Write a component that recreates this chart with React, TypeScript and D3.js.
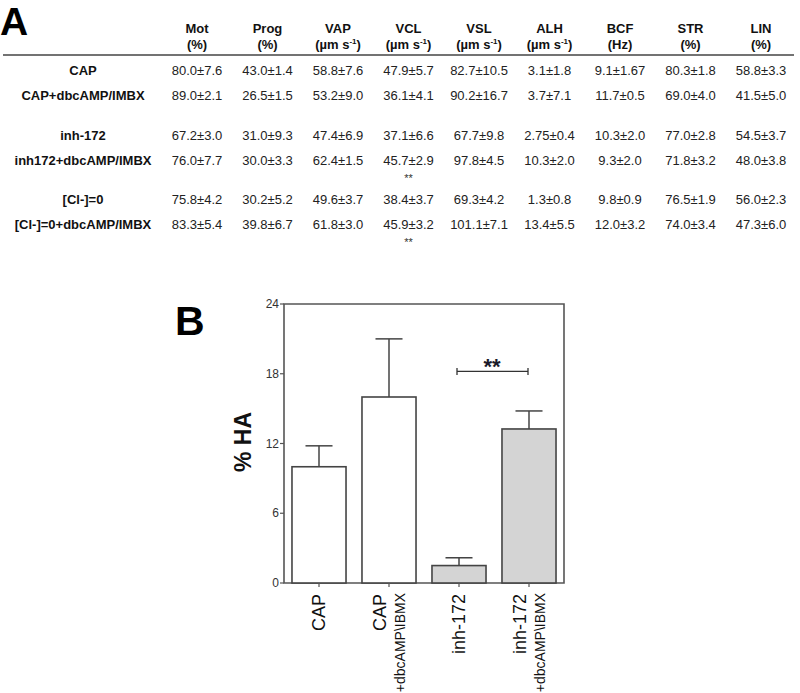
import React from "react";
import * as d3 from "d3";

const columns = ["Mot", "Prog", "VAP", "VCL", "VSL", "ALH", "BCF", "STR", "LIN"];
const units = ["(%)", "(%)", "µm", "µm", "µm", "µm", "(Hz)", "(%)", "(%)"];
const rowLabels = ["CAP", "CAP+dbcAMP/IMBX", "inh-172", "inh172+dbcAMP/IMBX", "[Cl-]=0", "[Cl-]=0+dbcAMP/IMBX"];
const rowCAP = ["80.0±7.6", "43.0±1.4", "58.8±7.6", "47.9±5.7", "82.7±10.5", "3.1±1.8", "9.1±1.67", "80.3±1.8", "58.8±3.3"];
const rowCAPdbc = ["89.0±2.1", "26.5±1.5", "53.2±9.0", "36.1±4.1", "90.2±16.7", "3.7±7.1", "11.7±0.5", "69.0±4.0", "41.5±5.0"];
const rowInh = ["67.2±3.0", "31.0±9.3", "47.4±6.9", "37.1±6.6", "67.7±9.8", "2.75±0.4", "10.3±2.0", "77.0±2.8", "54.5±3.7"];
const rowInhdbc = ["76.0±7.7", "30.0±3.3", "62.4±1.5", "45.7±2.9", "97.8±4.5", "10.3±2.0", "9.3±2.0", "71.8±3.2", "48.0±3.8"];
const rowCl = ["75.8±4.2", "30.2±5.2", "49.6±3.7", "38.4±3.7", "69.3±4.2", "1.3±0.8", "9.8±0.9", "76.5±1.9", "56.0±2.3"];
const rowCldbc = ["83.3±5.4", "39.8±6.7", "61.8±3.0", "45.9±3.2", "101.1±7.1", "13.4±5.5", "12.0±3.2", "74.0±3.4", "47.3±6.0"];
const tableRows = [rowCAP, rowCAPdbc, rowInh, rowInhdbc, rowCl, rowCldbc];
const sigMarks = [
  { row: 3, col: "VCL", text: "**" },
  { row: 5, col: "VCL", text: "**" },
];

const barGroups = ["CAP", "CAP+", "inh-172", "inh-172+"];
const barMain = ["CAP", "CAP", "inh-172", "inh-172"];
const barSub = ["", "+dbcAMP\\IBMX", "", "+dbcAMP\\IBMX"];
const barMeans = [10.0, 16.0, 1.5, 13.25];
const barErrors = [1.8, 5.0, 0.67, 1.55];
const barFills = ["#ffffff", "#ffffff", "#d4d4d4", "#d4d4d4"];
const yTicks = [0, 6, 12, 18, 24];
const sigPair = ["inh-172", "inh-172+"];
const sigLevel = 18.2;

const FONT = "Arial, 'Liberation Sans', Helvetica, sans-serif";

export default function App() {
  const colX = d3.scalePoint<string>().domain(columns).range([197, 761]);
  const rowY = (i: number) => 75 + Math.floor(i / 2) * 64.5 + (i % 2) * 25;

  const x = d3.scaleBand<string>().domain(barGroups).range([284, 564]).paddingInner(0.228).paddingOuter(0.114);
  const y = d3.scaleLinear().domain([0, 24]).range([583, 304]);
  const bw = x.bandwidth();
  const cx = (g: string) => (x(g) as number) + bw / 2;
  const capW = bw / 2;

  return (
    <div style={{ position: "absolute", left: 0, top: 0 }}>
      <svg width={800} height={693} style={{ display: "block", fontFamily: FONT }}>
        <rect x={0} y={0} width={800} height={693} fill="#fff" />
        {/* Panel A */}
        <text x={0} y={35} fontSize={39} fontWeight="bold" fill="#000">A</text>
        {columns.map((c, j) => (
          <g key={c}>
            <text x={colX(c)} y={33} textAnchor="middle" fontSize={13} fontWeight="bold" fill="#111">{c}</text>
            {units[j] === "µm" ? (
              <text x={colX(c)} y={49} textAnchor="middle" fontSize={13} fontWeight="bold" fill="#111">
                (µm s<tspan fontSize={8} dy={-5}>-1</tspan><tspan dy={5}>)</tspan>
              </text>
            ) : (
              <text x={colX(c)} y={49} textAnchor="middle" fontSize={13} fontWeight="bold" fill="#111">{units[j]}</text>
            )}
          </g>
        ))}
        <line x1={3} x2={794} y1={55} y2={55} stroke="#444" strokeWidth={1.5} />
        {rowLabels.map((r, i) => (
          <g key={r}>
            <text x={83} y={rowY(i)} textAnchor="middle" fontSize={13} fontWeight="bold" fill="#111">{r}</text>
            {tableRows[i].map((v, j) => (
              <text key={j} x={colX(columns[j])} y={rowY(i)} textAnchor="middle" fontSize={13} fill="#222">{v}</text>
            ))}
          </g>
        ))}
        {sigMarks.map((s, k) => (
          <text key={k} x={colX(s.col)} y={rowY(s.row) + 17} textAnchor="middle" fontSize={11} fill="#333">{s.text}</text>
        ))}

        {/* Panel B */}
        <text x={175} y={335} fontSize={41} fontWeight="bold" fill="#000">B</text>
        <text transform={`translate(243, 442) rotate(-90)`} textAnchor="middle" dy="0.35em" fontSize={23} fontWeight="bold" fill="#111">% HA</text>

        {/* frame */}
        <path d={`M${x.range()[0]},${y(0)} V${y(24)} H${x.range()[1]} V${y(0)} Z`} fill="none" stroke="#555" strokeWidth={1.6} />
        {yTicks.map((t) => (
          <g key={t}>
            <line x1={280} x2={284} y1={y(t)} y2={y(t)} stroke="#555" strokeWidth={1.2} />
            <text x={279} y={y(t)} dy="0.35em" textAnchor="end" fontSize={12} fill="#333">{t}</text>
          </g>
        ))}

        {barGroups.map((g, i) => (
          <g key={g}>
            <line x1={cx(g)} x2={cx(g)} y1={y(barMeans[i])} y2={y(barMeans[i] + barErrors[i])} stroke="#444" strokeWidth={1.5} />
            <line x1={cx(g) - capW / 2} x2={cx(g) + capW / 2} y1={y(barMeans[i] + barErrors[i])} y2={y(barMeans[i] + barErrors[i])} stroke="#444" strokeWidth={1.5} />
            <rect x={x(g)} y={y(barMeans[i])} width={bw} height={y(0) - y(barMeans[i])} fill={barFills[i]} stroke="#444" strokeWidth={1.6} />
            <line x1={cx(g)} x2={cx(g)} y1={y(0)} y2={y(0) + 4} stroke="#555" strokeWidth={1.2} />
            {barSub[i] ? (
              <g>
                <text transform={`translate(${cx(g) - 9}, 594) rotate(-90)`} textAnchor="end" dy="0.35em" fontSize={18} fill="#111">{barMain[i]}</text>
                <text transform={`translate(${cx(g) + 11}, 593) rotate(-90)`} textAnchor="end" dy="0.35em" fontSize={14} fill="#111">{barSub[i]}</text>
              </g>
            ) : (
              <text transform={`translate(${cx(g)}, 594) rotate(-90)`} textAnchor="end" dy="0.35em" fontSize={18} fill="#111">{barMain[i]}</text>
            )}
          </g>
        ))}

        {/* significance bracket */}
        <g>
          <line x1={cx(sigPair[0]) - 2} x2={cx(sigPair[1]) - 1} y1={y(sigLevel)} y2={y(sigLevel)} stroke="#333" strokeWidth={1.3} />
          <line x1={cx(sigPair[0]) - 2} x2={cx(sigPair[0]) - 2} y1={y(sigLevel) - 3.5} y2={y(sigLevel) + 3.5} stroke="#333" strokeWidth={1.3} />
          <line x1={cx(sigPair[1]) - 1} x2={cx(sigPair[1]) - 1} y1={y(sigLevel) - 3.5} y2={y(sigLevel) + 3.5} stroke="#333" strokeWidth={1.3} />
          <text x={(cx(sigPair[0]) + cx(sigPair[1])) / 2 - 2} y={y(sigLevel) + 3} textAnchor="middle" fontSize={22} fontWeight="bold" fill="#1a1a2a">**</text>
        </g>
      </svg>
    </div>
  );
}
